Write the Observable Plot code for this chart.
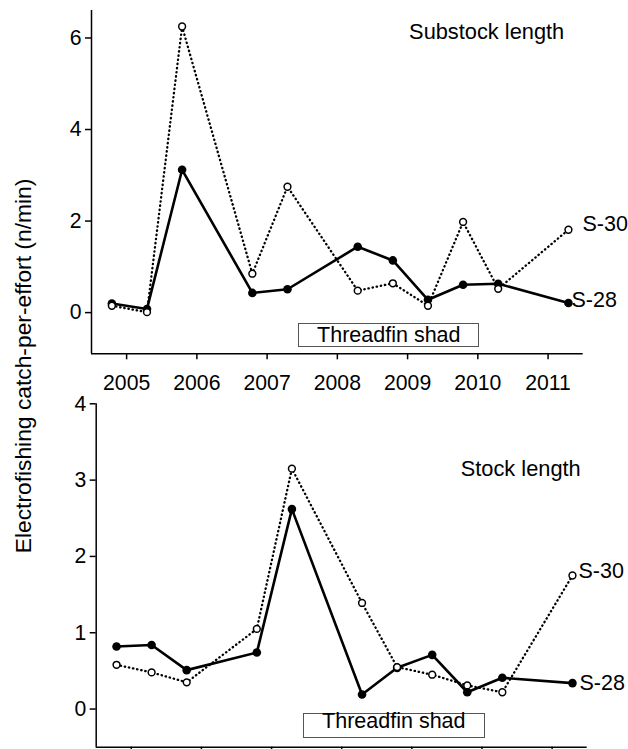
<!DOCTYPE html>
<html>
<head>
<meta charset="utf-8">
<script src="https://cdn.jsdelivr.net/npm/d3@7"></script>
<script src="https://cdn.jsdelivr.net/npm/@observablehq/plot@0.6"></script>
<style>
  html, body { margin: 0; padding: 0; background: #fff; overflow: hidden; }
  #wrap { position: relative; width: 628px; height: 749px; font-family: "Liberation Sans", Arial, sans-serif; color: #000; }
  .panel { position: absolute; left: 0; }
  .panel svg { overflow: visible; }
  .box { position: absolute; border: 1.5px solid #555; box-sizing: border-box; font-size: 21.5px; text-align: center; white-space: nowrap; background: #fff; }
  .ylab { position: absolute; left: 22.5px; top: 366px; transform: translate(-50%, -50%) rotate(-90deg); font-size: 22.8px; white-space: nowrap; }
</style>
</head>
<body>
<div id="wrap"></div>
<script>
// ---- data ----
const sampleDates = [2004.79, 2005.29, 2005.79, 2006.79, 2007.29, 2008.29, 2008.79, 2009.29, 2009.79, 2010.29, 2011.29];
const yearTicks = [2005, 2006, 2007, 2008, 2009, 2010, 2011];
const seriesNames = ["S-28", "S-30"];

const substockS28 = [0.20, 0.08, 3.12, 0.43, 0.51, 1.44, 1.14, 0.28, 0.61, 0.63, 0.21];
const substockS30 = [0.15, 0.01, 6.25, 0.85, 2.75, 0.48, 0.64, 0.15, 1.98, 0.52, 1.81];
const stockS28 = [0.82, 0.84, 0.51, 0.74, 2.62, 0.19, 0.54, 0.71, 0.22, 0.41, 0.34];
const stockS30 = [0.58, 0.48, 0.35, 1.05, 3.15, 1.39, 0.55, 0.45, 0.31, 0.22, 1.75];

const substockTicks = [0, 2, 4, 6];
const stockTicks = [0, 1, 2, 3, 4];
const panelTitles = ["Substock length", "Stock length"];
const speciesLabel = "Threadfin shad";
const yTitle = "Electrofishing catch-per-effort (n/min)";

const xDomain = [2004.5, 2011.5];

function rows(vals, series) {
  return sampleDates.map((d, i) => ({ date: d, value: vals[i], series }));
}

function panel(o) {
  const d28 = rows(o.s28, seriesNames[0]);
  const d30 = rows(o.s30, seriesNames[1]);
  const marks = [
    Plot.axisX(yearTicks, { tickSize: 6, strokeWidth: 1.5, label: null, tickFormat: () => "" }),
    Plot.axisY(o.yTicks, { tickSize: 6, strokeWidth: 1.5, label: null, tickFormat: () => "" }),
    Plot.text(o.yTicks, { y: d => d, text: d => String(d), frameAnchor: "left", textAnchor: "end", dx: -10, fontSize: 21.2 }),
    Plot.ruleY([o.yDomain[0]], { stroke: "#000", strokeWidth: 1.5 }),
    Plot.ruleX([xDomain[0]], { stroke: "#000", strokeWidth: 1.5 }),
    Plot.line(d28, { x: "date", y: "value", stroke: "#000", strokeWidth: 2.6 }),
    Plot.line(d30, { x: "date", y: "value", stroke: "#000", strokeWidth: 2.3, strokeLinecap: "round", strokeDasharray: "0.4,3.8" }),
    Plot.dot(d28, { x: "date", y: "value", r: 4.3, fill: "#000" }),
    Plot.dot(d30, { x: "date", y: "value", r: 3.4, fill: "#fff", stroke: "#000", strokeWidth: 1.5 }),
    Plot.text(d28.slice(-1), { x: "date", y: "value", text: "series", textAnchor: "start", dx: o.l28[0], dy: o.l28[1], fontSize: 21.5 }),
    Plot.text(d30.slice(-1), { x: "date", y: "value", text: "series", textAnchor: "start", dx: o.l30[0], dy: o.l30[1], fontSize: 21.5 }),
    Plot.text([o.title], { frameAnchor: "top-right", text: d => d, lineAnchor: "top", dx: o.tdx, dy: o.tdy, fontSize: 21.8 })
  ];
  if (o.showX) {
    marks.push(Plot.text(yearTicks, { x: d => d, text: d => String(d), frameAnchor: "bottom", lineAnchor: "top", dy: 21, fontSize: 21.2 }));
  }
  return Plot.plot({
    width: 628,
    height: o.height,
    marginTop: o.mt, marginBottom: o.mb, marginLeft: o.ml, marginRight: o.mr,
    style: { fontFamily: "Liberation Sans, Arial, sans-serif", fontSize: "21.5px", color: "#000", background: "transparent", overflow: "visible" },
    x: { domain: xDomain },
    y: { domain: o.yDomain },
    marks
  });
}

const wrap = document.getElementById("wrap");

const topPanel = document.createElement("div");
topPanel.className = "panel"; topPanel.style.top = "0px";
topPanel.appendChild(panel({
  s28: substockS28, s30: substockS30, yDomain: [-0.9, 6.6], yTicks: substockTicks,
  height: 395, mt: 10, mb: 41.7, ml: 91, mr: 45.3, showX: true,
  title: panelTitles[0], tdx: -19, tdy: 13,
  l28: [3, -3], l30: [14, -6]
}));
wrap.appendChild(topPanel);

const botPanel = document.createElement("div");
botPanel.className = "panel"; botPanel.style.top = "393px";
botPanel.appendChild(panel({
  s28: stockS28, s30: stockS30, yDomain: [-0.5, 4], yTicks: stockTicks,
  height: 362, mt: 10.3, mb: 8.3, ml: 95.7, mr: 41.3, showX: false,
  title: panelTitles[1], tdx: -6.5, tdy: 57,
  l28: [7, 0], l30: [6, -4]
}));
wrap.appendChild(botPanel);

function addBox(left, topPx, w, h, lh) {
  const b = document.createElement("div");
  b.className = "box";
  Object.assign(b.style, { left: left + "px", top: topPx + "px", width: w + "px", height: h + "px", lineHeight: lh + "px" });
  b.textContent = speciesLabel;
  wrap.appendChild(b);
}
addBox(298.3, 323.3, 181, 23.4, 22);
addBox(302.7, 713.3, 182.3, 25, 14);

const yl = document.createElement("div");
yl.className = "ylab";
yl.textContent = yTitle;
wrap.appendChild(yl);
</script>
</body>
</html>
